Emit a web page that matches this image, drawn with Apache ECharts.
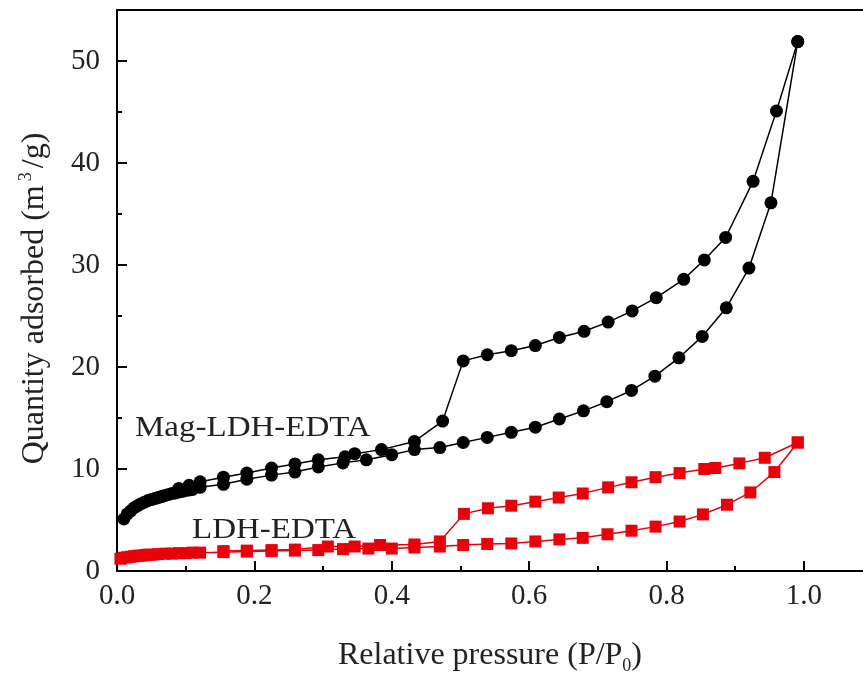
<!DOCTYPE html>
<html><head><meta charset="utf-8">
<script src="https://cdn.jsdelivr.net/npm/echarts@6/dist/echarts.min.js"></script>
<style>html,body{margin:0;padding:0;background:#fff}#c{width:863px;height:677px}</style>
</head><body><div id="c"></div>
<script>
const magAdsX = [0.010,0.015,0.020,0.025,0.030,0.035,0.040,0.045,0.050,0.055,0.060,0.065,0.070,0.075,0.080,0.085,0.090,0.095,0.100,0.105,0.110,0.121,0.155,0.189,0.225,0.259,0.293,0.329,0.363,0.400,0.433,0.470,0.504,0.539,0.574,0.609,0.644,0.679,0.713,0.749,0.783,0.818,0.852,0.887,0.920,0.952,0.991];
const magAdsY = [5.1,5.6,5.9,6.2,6.4,6.6,6.75,6.9,7.0,7.1,7.2,7.3,7.4,7.5,7.6,7.65,7.75,7.8,7.9,7.95,8.0,8.2,8.5,9.0,9.4,9.7,10.2,10.6,10.9,11.4,11.9,12.1,12.6,13.1,13.6,14.1,14.9,15.7,16.6,17.7,19.1,20.9,23.0,25.8,29.7,36.1,51.9];
const magDesX = [0.991,0.960,0.926,0.886,0.855,0.825,0.785,0.750,0.715,0.680,0.644,0.609,0.574,0.539,0.504,0.474,0.433,0.385,0.346,0.332,0.293,0.259,0.225,0.189,0.155,0.121,0.105,0.090];
const magDesY = [51.9,45.1,38.2,32.7,30.5,28.6,26.8,25.5,24.4,23.5,22.9,22.1,21.6,21.2,20.6,14.7,12.7,11.9,11.5,11.2,10.9,10.5,10.1,9.6,9.2,8.75,8.4,8.1];
const ldhAdsX = [0.005,0.010,0.015,0.020,0.025,0.030,0.035,0.040,0.045,0.050,0.060,0.070,0.080,0.090,0.100,0.110,0.121,0.155,0.189,0.225,0.259,0.293,0.329,0.366,0.400,0.433,0.470,0.504,0.539,0.574,0.609,0.644,0.678,0.714,0.749,0.784,0.819,0.853,0.888,0.922,0.957,0.991];
const ldhAdsY = [1.2,1.3,1.35,1.4,1.45,1.5,1.5,1.55,1.6,1.6,1.65,1.7,1.7,1.75,1.75,1.8,1.8,1.85,1.9,1.95,2.0,2.05,2.15,2.2,2.2,2.3,2.4,2.55,2.65,2.7,2.9,3.1,3.25,3.6,3.95,4.35,4.85,5.55,6.5,7.7,9.7,12.6];
const ldhDesX = [0.991,0.943,0.906,0.871,0.855,0.819,0.784,0.749,0.715,0.678,0.643,0.609,0.574,0.540,0.505,0.470,0.433,0.383,0.346,0.307,0.259,0.225,0.189,0.155];
const ldhDesY = [12.6,11.1,10.55,10.1,10.0,9.6,9.2,8.7,8.2,7.6,7.2,6.8,6.4,6.15,5.6,2.9,2.6,2.55,2.4,2.4,2.1,2.05,2.0,1.95];
const xTicks = [0.0,0.2,0.4,0.6,0.8,1.0];
const xMinorTicks = [0.1,0.3,0.5,0.7,0.9];
const yTicks = [0,10,20,30,40,50];
const yMinorTicks = [5,15,25,35,45];
const seriesNames = ['Mag-LDH-EDTA','LDH-EDTA'];

const zip = (xs, ys) => xs.map((x, i) => [x, ys[i]]);
const FONT = '"Liberation Serif", "Times New Roman", serif';
const chart = echarts.init(document.getElementById('c'), null, {renderer: 'canvas'});

const X_MAX = 1.086, Y_MAX = 55;
const tickStyle = {color: '#000', width: 2};
const lineStyleBlack = {color: '#000', width: 1.5};
const lineStyleRed = {color: '#e8000b', width: 1.5};

chart.setOption({
  animation: false,
  backgroundColor: '#fff',
  grid: {left: 117, top: 10, right: 0, bottom: 106, outerBoundsMode: 'none', containLabel: false},
  xAxis: [{
    type: 'value', min: 0, max: X_MAX, interval: 0.2,
    axisLine: {show: true, onZero: false, lineStyle: {color: '#000', width: 2}},
    splitLine: {show: false},
    axisTick: {show: true, inside: true, length: 10, lineStyle: tickStyle, customValues: xTicks},
    axisLabel: {show: true, color: '#222', fontFamily: FONT, fontSize: 29, margin: 11, customValues: xTicks,
      formatter: v => v.toFixed(1)},
    name: 'Relative pressure (P/P{sub|0})', nameLocation: 'middle', nameGap: 66,
    nameTextStyle: {color: '#222', fontFamily: FONT, fontSize: 32,
      rich: {sub: {fontFamily: FONT, fontSize: 18, color: '#222', padding: [20, 0, 0, 0]}}}
  }, {
    type: 'value', min: 0, max: X_MAX, position: 'bottom',
    axisLine: {show: false}, splitLine: {show: false}, axisLabel: {show: false},
    axisTick: {show: true, inside: true, length: 5, lineStyle: tickStyle, customValues: xMinorTicks}
  }, {
    type: 'value', min: 0, max: X_MAX, position: 'top',
    axisLine: {show: true, onZero: false, lineStyle: {color: '#000', width: 2}},
    splitLine: {show: false}, axisLabel: {show: false}, axisTick: {show: false}
  }],
  yAxis: [{
    type: 'value', min: 0, max: Y_MAX, interval: 10,
    axisLine: {show: true, onZero: false, lineStyle: {color: '#000', width: 2}},
    splitLine: {show: false},
    axisTick: {show: true, inside: true, length: 10, lineStyle: tickStyle, customValues: yTicks},
    axisLabel: {show: true, color: '#222', fontFamily: FONT, fontSize: 29, margin: 17, customValues: yTicks,
      formatter: v => String(v)},
    name: 'Quantity adsorbed (m{sup|3}/g)', nameLocation: 'middle', nameGap: 64, nameRotate: 90,
    nameTextStyle: {color: '#222', fontFamily: FONT, fontSize: 32, padding: [0, 16, 0, 0],
      rich: {sup: {fontFamily: FONT, fontSize: 18, color: '#222', padding: [0, 4, 18, 4]}}}
  }, {
    type: 'value', min: 0, max: Y_MAX, position: 'left',
    axisLine: {show: false}, splitLine: {show: false}, axisLabel: {show: false},
    axisTick: {show: true, inside: true, length: 5, lineStyle: tickStyle, customValues: yMinorTicks}
  }],
  graphic: [
    {type: 'text', x: 135, y: 428, scaleX: 1.1, style: {text: seriesNames[0], font: '30px ' + FONT, fill: '#222', verticalAlign: 'middle'}},
    {type: 'text', x: 192, y: 530, scaleX: 1.1, style: {text: seriesNames[1], font: '30px ' + FONT, fill: '#222', verticalAlign: 'middle'}}
  ],
  series: [
    {name: seriesNames[0] + ' ads', type: 'line', data: zip(magAdsX, magAdsY), symbol: 'circle', symbolSize: 13,
      itemStyle: {color: '#000'}, lineStyle: lineStyleBlack, z: 3},
    {name: seriesNames[0] + ' des', type: 'line', data: zip(magDesX, magDesY), symbol: 'circle', symbolSize: 13,
      itemStyle: {color: '#000'}, lineStyle: lineStyleBlack, z: 3},
    {name: seriesNames[1] + ' ads', type: 'line', data: zip(ldhAdsX, ldhAdsY), symbol: 'rect', symbolSize: 12,
      itemStyle: {color: '#e8000b'}, lineStyle: lineStyleRed, z: 4},
    {name: seriesNames[1] + ' des', type: 'line', data: zip(ldhDesX, ldhDesY), symbol: 'rect', symbolSize: 12,
      itemStyle: {color: '#e8000b'}, lineStyle: lineStyleRed, z: 4}
  ]
});
</script></body></html>
